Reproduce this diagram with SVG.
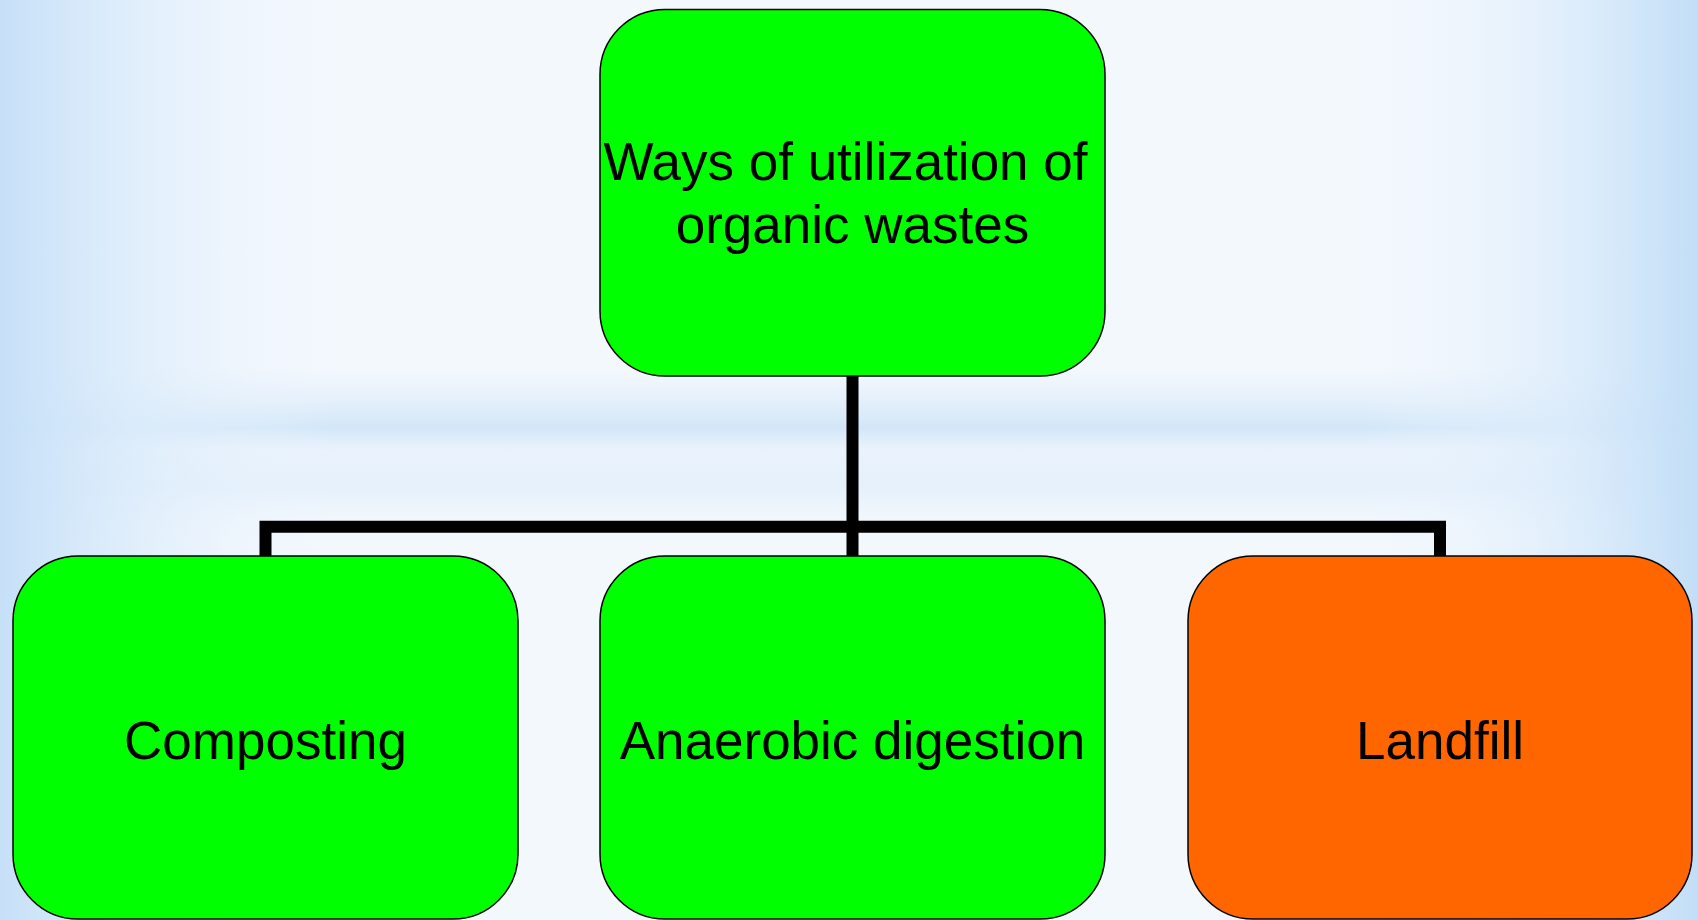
<svg xmlns="http://www.w3.org/2000/svg" width="1698" height="920" viewBox="0 0 1698 920">
  <defs>
    <linearGradient id="bgH" x1="0" y1="0" x2="1" y2="0">
      <stop offset="0" stop-color="#c6e0f8" stop-opacity="1"/>
      <stop offset="0.08" stop-color="#dcecfb" stop-opacity="0.8"/>
      <stop offset="0.2" stop-color="#eef5fd" stop-opacity="0"/>
      <stop offset="0.8" stop-color="#eef5fd" stop-opacity="0"/>
      <stop offset="0.92" stop-color="#dcecfb" stop-opacity="0.8"/>
      <stop offset="1" stop-color="#c2def7" stop-opacity="1"/>
    </linearGradient>
    <linearGradient id="bgV" x1="0" y1="0" x2="0" y2="1">
      <stop offset="0" stop-color="#ffffff" stop-opacity="0"/>
      <stop offset="0.4" stop-color="#d8e9fa" stop-opacity="0"/>
      <stop offset="0.465" stop-color="#c6e0f7" stop-opacity="0.75"/>
      <stop offset="0.49" stop-color="#d8e9fa" stop-opacity="0.35"/>
      <stop offset="0.53" stop-color="#cfe5f9" stop-opacity="0.4"/>
      <stop offset="0.6" stop-color="#ffffff" stop-opacity="0"/>
      <stop offset="1" stop-color="#ffffff" stop-opacity="0"/>
    </linearGradient>
    <style>
      .box { stroke: #000000; stroke-width: 1.5; }
      .green { fill: #00ff00; }
      .orange { fill: #ff6600; }
      .lbl { font-family: "Liberation Sans", Arial, sans-serif; font-size: 53px; fill: #000000; text-anchor: middle; }
      .conn { fill: none; stroke: #000000; stroke-width: 12; stroke-linejoin: miter; stroke-linecap: butt; }
    </style>
  </defs>
  <rect x="0" y="0" width="1698" height="920" fill="#f3f8fd"/>
  <rect x="0" y="0" width="1698" height="920" fill="url(#bgV)"/>
  <rect x="0" y="0" width="1698" height="920" fill="url(#bgH)"/>

  <g id="connectors">
    <path class="conn" d="M852.5,376 V556"/>
    <path class="conn" d="M265.5,556 V526.7 H1440 V556"/>
  </g>

  <g id="node-root">
    <rect class="box green" x="600" y="9.5" width="505" height="366.5" rx="65" ry="65"/>
    <text class="lbl" x="845.5" y="180">Ways of utilization of</text>
    <text class="lbl" x="852.5" y="243">organic wastes</text>
  </g>
  <g id="node-composting">
    <rect class="box green" x="13" y="556" width="505" height="363" rx="65" ry="65"/>
    <text class="lbl" x="265.5" y="759">Composting</text>
  </g>
  <g id="node-anaerobic">
    <rect class="box green" x="600" y="556" width="505" height="363" rx="65" ry="65"/>
    <text class="lbl" x="852.5" y="759">Anaerobic digestion</text>
  </g>
  <g id="node-landfill">
    <rect class="box orange" x="1188" y="556" width="504" height="363" rx="65" ry="65"/>
    <text class="lbl" x="1440" y="759">Landfill</text>
  </g>
</svg>
